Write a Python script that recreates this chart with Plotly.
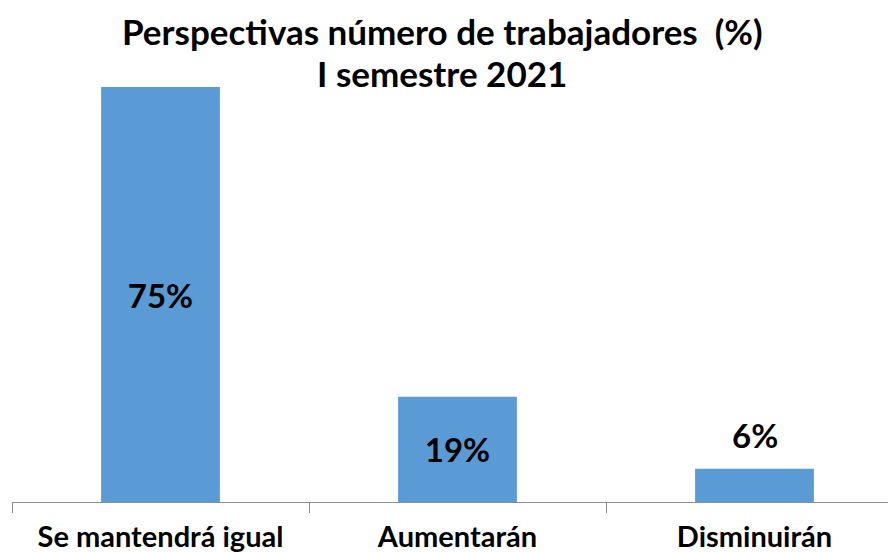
import plotly.graph_objects as go

categories = ["Se mantendrá igual", "Aumentarán", "Disminuirán"]
values = [75, 19, 6]
labels = ["75%", "19%", "6%"]
label_inside = [True, True, False]
title_lines = ["Perspectivas número de trabajadores  (%)", "I semestre 2021"]

BLUE = "#5B9BD5"
FONT = "Lato"
GREY = "#8c8c8c"

fig = go.Figure(go.Bar(
    x=categories, y=values,
    text=[f"<b>{t}</b>" if inside else "" for t, inside in zip(labels, label_inside)],
    textposition="inside", insidetextanchor="middle", textangle=0,
    textfont=dict(family=FONT, size=33, color="black"),
    marker=dict(color=BLUE, line=dict(width=0)),
))

# labels that sit above their bars
for cat, val, t, inside in zip(categories, values, labels, label_inside):
    if not inside:
        fig.add_annotation(x=cat, y=val, text=f"<b>{t}</b>", showarrow=False,
                           yanchor="bottom", yshift=12,
                           font=dict(family=FONT, size=33, color="black"))

# two-line title, one annotation per line so both fit inside the page
for line, shift in zip(title_lines, [56, 14]):
    fig.add_annotation(text=f"<b>{line}</b>", xref="paper", yref="paper",
                       x=0.483, y=1, yshift=shift, xanchor="center", yanchor="middle",
                       showarrow=False, borderpad=0,
                       font=dict(family=FONT, size=35, color="black"))

fig.update_layout(
    width=896, height=552,
    margin=dict(l=4, r=1, t=79, b=58, autoexpand=False),
    plot_bgcolor="white", paper_bgcolor="white",
    bargap=0.6, showlegend=False,
    font=dict(family=FONT, color="black"),
    uniformtext=dict(minsize=20, mode="show"),
)
fig.update_xaxes(showline=True, linecolor=GREY, linewidth=1, automargin=False,
                 range=[-0.5, 2.5],
                 ticks="outside", tickson="boundaries", ticklen=10, tickcolor=GREY,
                 ticklabelstandoff=9,
                 tickfont=dict(family=FONT, size=29, color="black"),
                 tickprefix="<b>", ticksuffix="</b>")
fig.update_yaxes(visible=False, range=[0, 75])

fig.write_html("out.html")
